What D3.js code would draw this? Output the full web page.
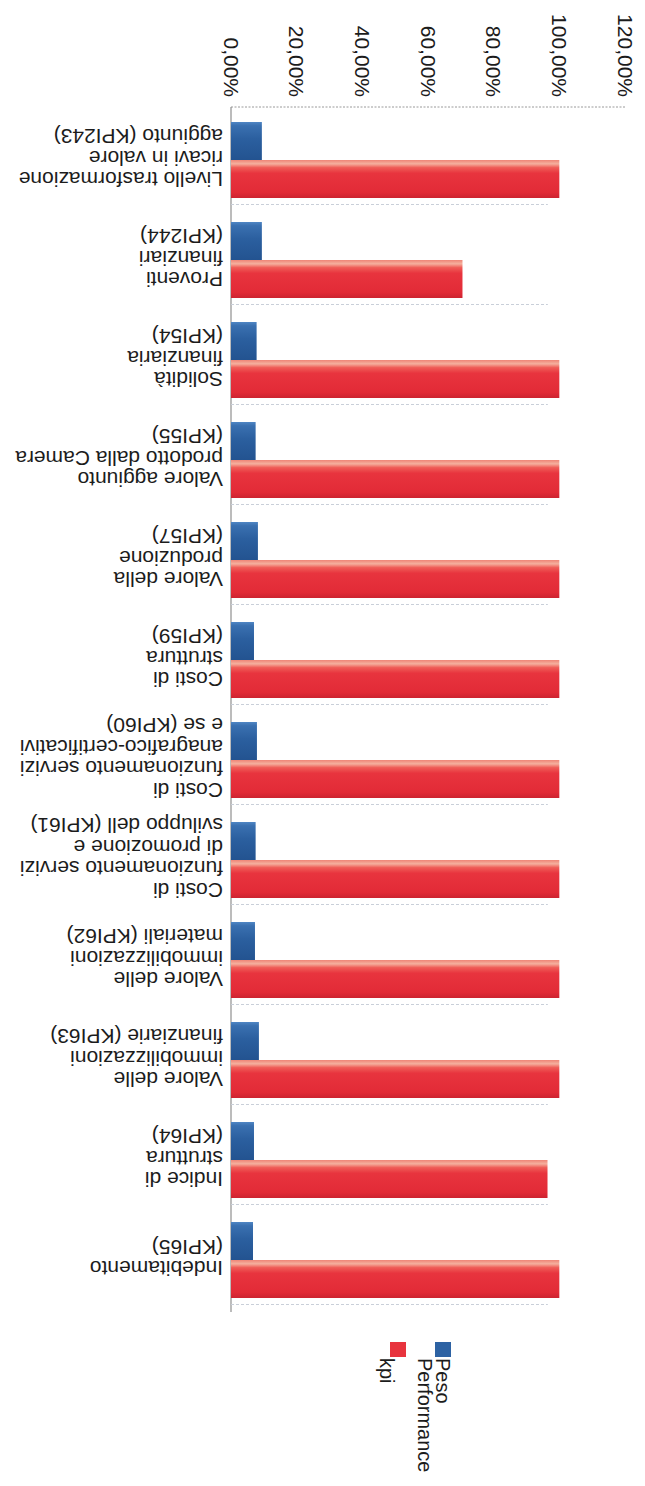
<!DOCTYPE html>
<html>
<head>
<meta charset="utf-8">
<script src="https://cdn.jsdelivr.net/npm/d3@7"></script>
<style>
  body { margin: 0; background: #fff; }
  svg { display: block; }
  text { font-family: "Liberation Sans", Arial, sans-serif; fill: #1c1c1c; }
</style>
</head>
<body>
<script>
// KPI categories, each split into its wrapped label lines
const categories = [
  ["Livello trasformazione", "ricavi in valore", "aggiunto (KPI243)"],
  ["Proventi", "finanziari", "(KPI244)"],
  ["Solidità", "finanziaria", "(KPI54)"],
  ["Valore aggiunto", "prodotto dalla Camera", "(KPI55)"],
  ["Valore della", "produzione", "(KPI57)"],
  ["Costi di", "struttura", "(KPI59)"],
  ["Costi di", "funzionamento servizi", "anagrafico-certificativi", "e se (KPI60)"],
  ["Costi di", "funzionamento servizi", "di promozione e", "sviluppo dell (KPI61)"],
  ["Valore delle", "immobilizzazioni", "materiali (KPI62)"],
  ["Valore delle", "immobilizzazioni", "finanziarie (KPI63)"],
  ["Indice di", "struttura", "(KPI64)"],
  ["Indebitamento", "(KPI65)"]
];

const seriesNames = ["Peso", "Performance kpi"];
const peso        = [9.4, 9.4, 7.8, 7.5, 8.2, 7.0, 7.9, 7.5, 7.3, 8.5, 7.0, 6.7];
const performance = [100, 70.5, 100, 100, 100, 100, 100, 100, 100, 100, 96.4, 100];
const tickValues  = [0, 20, 40, 60, 80, 100, 120];

const W = 645, H = 1486;
const svg = d3.select("body").append("svg").attr("width", W).attr("height", H);

const keys = categories.map(c => c.join(" "));
const rows = keys.map((k, i) => ({ key: k, lines: categories[i], values: [peso[i], performance[i]] }));

const x = d3.scaleLinear().domain([0, 120]).range([231, 625]);
const y = d3.scaleBand().domain(keys).range([110, 1310]).paddingInner(0.24).paddingOuter(0.12);
const ySub = d3.scaleBand().domain(seriesNames).range([0, y.bandwidth()]);

// bar fills: shaded like glossy office columns
const defs = svg.append("defs");
const grad = (id, stops) => {
  const g = defs.append("linearGradient").attr("id", id)
    .attr("x1", 0).attr("y1", 0).attr("x2", 0).attr("y2", 1);
  stops.forEach(([o, c]) => g.append("stop").attr("offset", o).attr("stop-color", c));
};
grad("gBlue", [["0", "#4f86c4"], ["0.1", "#3a70b0"], ["0.45", "#2b5f9f"], ["1", "#235390"]]);
grad("gRed", [["0", "#ef8576"], ["0.1", "#f5b09e"], ["0.2", "#ef5d57"], ["0.35", "#e8343e"], ["0.85", "#e22b37"], ["1", "#cc2330"]]);
const fills = { "Peso": "url(#gBlue)", "Performance kpi": "url(#gRed)" };
const swatch = { "Peso": "#2d62a3", "Performance kpi": "#e8343e" };

// frame: dotted top edge and value-axis baseline
svg.append("line")
  .attr("x1", x(0)).attr("x2", x(120)).attr("y1", 107).attr("y2", 107)
  .attr("stroke", "#9a9a9a").attr("stroke-width", 1).attr("stroke-dasharray", "2,1.5");
svg.append("line")
  .attr("x1", x(0)).attr("x2", x(0)).attr("y1", 107).attr("y2", 1312)
  .attr("stroke", "#8f8f8f").attr("stroke-width", 1.2);

// faint separators under each category group
svg.append("g").selectAll("line").data(rows).join("line")
  .attr("x1", x(0)).attr("x2", x(96.5))
  .attr("y1", d => y(d.key) + y.bandwidth() + 6.5)
  .attr("y2", d => y(d.key) + y.bandwidth() + 6.5)
  .attr("stroke", "#c9cfd9").attr("stroke-width", 1).attr("stroke-dasharray", "3,2");

// bars
const grp = svg.append("g").selectAll("g").data(rows).join("g")
  .attr("transform", d => `translate(0,${y(d.key)})`);
grp.selectAll("rect").data(d => seriesNames.map((s, j) => ({ s, v: d.values[j] }))).join("rect")
  .attr("x", x(0))
  .attr("y", d => ySub(d.s))
  .attr("width", d => x(d.v) - x(0))
  .attr("height", ySub.bandwidth())
  .attr("fill", d => fills[d.s]);

// value axis tick labels, rotated to read downward
svg.append("g").selectAll("text").data(tickValues).join("text")
  .attr("x", d => x(d)).attr("y", 97)
  .attr("transform", d => `rotate(90,${x(d)},97)`)
  .attr("text-anchor", "end")
  .attr("dominant-baseline", "central")
  .attr("font-size", 21)
  .text(d => d.toFixed(2).replace(".", ",") + "%");

// category labels, turned upside down
const lh = 21.5, lx = 223;
rows.forEach(r => {
  const n = r.lines.length;
  const cy = y(r.key) + y.bandwidth() / 2 - 2;
  r.lines.forEach((t, i) => {
    const ly = cy + ((n - 1) / 2 - i) * lh;
    svg.append("text")
      .attr("x", lx).attr("y", ly)
      .attr("transform", `rotate(180,${lx},${ly})`)
      .attr("text-anchor", "start")
      .attr("dominant-baseline", "central")
      .attr("font-size", 21)
      .text(t);
  });
});

// legend
const legend = [
  { s: "Peso", sx: 435, lines: [[443, "Peso"]] },
  { s: "Performance kpi", sx: 390, lines: [[425, "Performance"], [387, "kpi"]] }
];
legend.forEach(e => {
  svg.append("rect").attr("x", e.sx).attr("y", 1342).attr("width", 16).attr("height", 15)
    .attr("fill", swatch[e.s]);
  e.lines.forEach(([tx, t]) => {
    svg.append("text")
      .attr("x", tx).attr("y", 1358)
      .attr("transform", `rotate(90,${tx},1358)`)
      .attr("text-anchor", "start")
      .attr("dominant-baseline", "central")
      .attr("font-size", 20)
      .text(t);
  });
});
</script>
</body>
</html>
